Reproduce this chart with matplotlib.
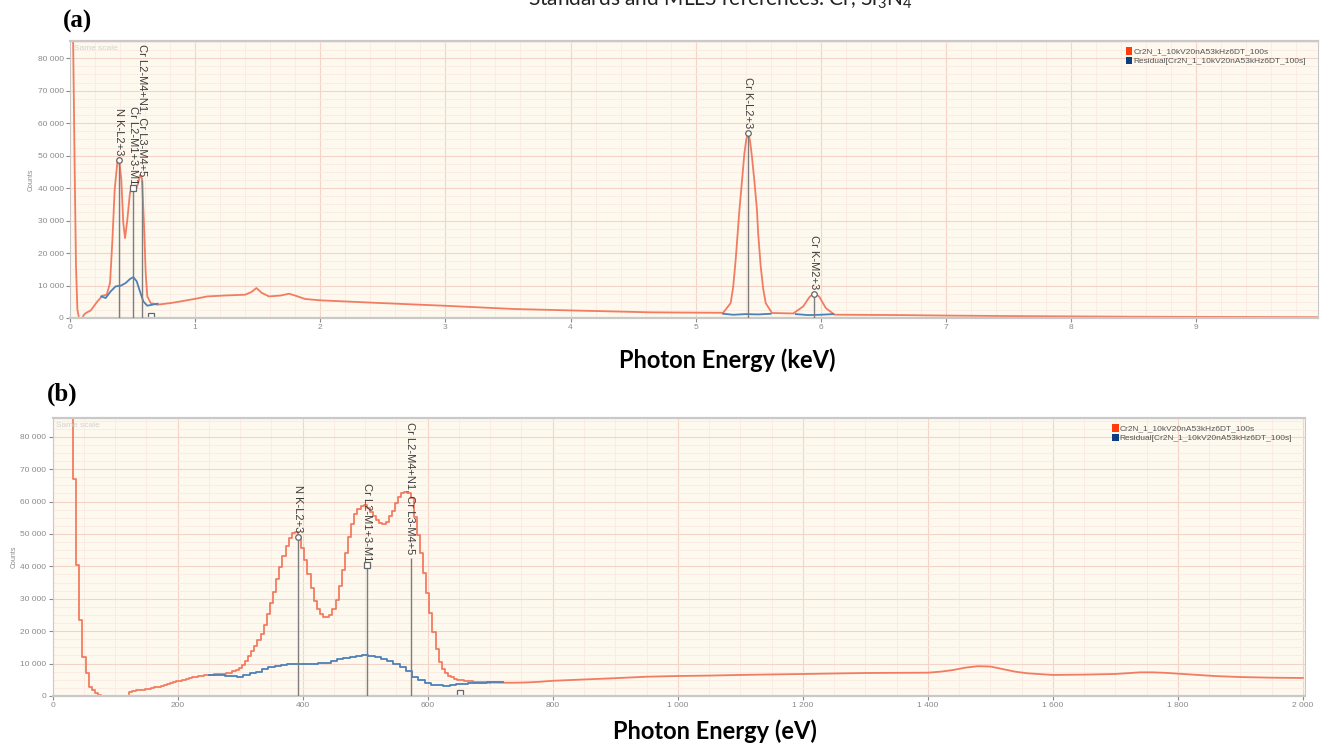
import matplotlib
matplotlib.use("Agg")
import numpy as np
import matplotlib.pyplot as plt
from matplotlib.patches import Patch
from matplotlib.ticker import MultipleLocator, FuncFormatter

# ---- panel (a): full spectrum, energy in keV ----
energy_kev = [0.018, 0.02, 0.03, 0.037, 0.048, 0.059, 0.072, 0.099, 0.11, 0.125,
              0.165, 0.219, 0.259, 0.293, 0.32, 0.339, 0.357, 0.379, 0.392, 0.41,
              0.426, 0.44, 0.458, 0.479, 0.498, 0.525, 0.545, 0.56, 0.575, 0.591,
              0.605, 0.618, 0.645, 0.698, 0.804, 0.884, 1.0, 1.097, 1.25, 1.40,
              1.45, 1.49, 1.53, 1.59, 1.68, 1.75, 1.80, 1.88, 2.0, 2.48,
              2.99, 3.55, 4.09, 4.65, 5.22, 5.28, 5.30, 5.32, 5.35, 5.37,
              5.39, 5.405, 5.42, 5.435, 5.45, 5.47, 5.49, 5.50, 5.52, 5.54,
              5.56, 5.61, 5.78, 5.86, 5.91, 5.95, 5.99, 6.04, 6.11, 6.63,
              7.0, 7.5, 8.0, 8.5, 9.0, 9.5, 9.97]
counts_kev = [120000, 100000, 70000, 46700, 15900, 2600, 0, 0, 900, 1500,
              2300, 5100, 6860, 7170, 10770, 24100, 39500, 48200, 49200, 42500,
              29200, 24600, 30200, 38500, 40500, 39500, 41500, 44000, 43000, 29200,
              13800, 6650, 4600, 4100, 4600, 5110, 5900, 6650, 6950, 7170,
              8000, 9230, 7800, 6650, 6900, 7480, 6900, 5850, 5440, 4610,
              3780, 2770, 2250, 1740, 1600, 4600, 9500, 17900, 33300, 42000,
              50800, 55000, 57100, 54500, 49700, 42000, 33300, 26000, 15900, 9000,
              4600, 1540, 1400, 3570, 6460, 7880, 6460, 3080, 1020, 900,
              750, 600, 500, 400, 350, 300, 250]

resid_energy_kev = [0.25, 0.285, 0.325, 0.365, 0.405, 0.445, 0.479, 0.506, 0.533, 0.559,
                    0.586, 0.618, 0.658, 0.70, np.nan, 5.22, 5.30, 5.40, 5.50, 5.60,
                    np.nan, 5.80, 5.90, 6.00, 6.10]
resid_counts_kev = [6650, 6150, 8200, 9740, 9940, 10770, 12000, 12600, 11300, 8200,
                    5100, 3780, 4100, 4400, np.nan, 1300, 1000, 1200, 1100, 1300,
                    np.nan, 1200, 900, 1000, 1200]

lines_kev = [0.391, 0.503, 0.578, 5.415, 5.95]
line_tops_kev = [48700, 40000, 42500, 57100, 7480]
line_names_kev = ["N K-L2+3", "Cr L2-M1+3-M1", "Cr L2-M4+N1, Cr L3-M4+5",
                  "Cr K-L2+3", "Cr K-M2+3"]
line_marks_kev = ["o", "s", None, "o", "o"]

# ---- panel (b): low-energy region, energy in eV ----
# 5 eV channels up to 700 eV (drawn as steps)
energy_ev = list(range(30, 705, 5))
counts_ev = [120000, 67000, 40400, 23400, 12100, 7000, 2900, 1800, 800, 300,
             0, 0, 0, 0, 0, 0, 0, 0, 0, 1300,
             1650, 1750, 1850, 2000, 2150, 2300, 2400, 2650, 2900, 3150,
             3450, 3700, 3950, 4250, 4500, 4750, 5000, 5250, 5500, 5750,
             6000, 6150, 6300, 6450, 6600, 6600, 6650, 6650, 6700, 6750,
             6950, 7200, 7600, 8100, 8700, 9600, 10700, 12200, 13800, 15500,
             17300, 19200, 22000, 25200, 28700, 32200, 36000, 39700, 43200, 46400,
             48800, 50400, 50600, 48800, 45600, 42000, 37600, 33200, 29200, 26800,
             25300, 24400, 24300, 25000, 26900, 29600, 34000, 38800, 44000, 49200,
             53200, 56200, 57700, 58600, 58900, 58000, 56800, 55400, 54200, 53400,
             53000, 53800, 55400, 57200, 59500, 61300, 62600, 63000, 62600, 61200,
             55300, 49800, 44200, 38000, 31700, 25500, 19600, 14600, 10600, 8400,
             7100, 6300, 5800, 5300, 4900, 4800, 4700, 4600, 4500, 4400,
             4350, 4300, 4250, 4200, 4150]
# slowly varying background above 700 eV
tail_energy_ev = [700, 720, 740, 760, 780, 800, 850, 900, 950, 1000,
                  1050, 1100, 1150, 1200, 1250, 1300, 1350, 1400, 1420, 1440,
                  1460, 1480, 1500, 1520, 1540, 1560, 1600, 1650, 1700, 1740,
                  1760, 1780, 1820, 1860, 1900, 1950, 2000]
tail_counts_ev = [4150, 4100, 4100, 4200, 4400, 4700, 5100, 5500, 5950, 6170,
                  6300, 6500, 6650, 6790, 6950, 7100, 7150, 7200, 7500, 8000,
                  8750, 9200, 9100, 8300, 7500, 7000, 6500, 6600, 6800, 7300,
                  7300, 7150, 6650, 6150, 5850, 5650, 5560]

resid_energy_ev = list(range(250, 730, 10))
resid_counts_ev = [6600, 6500, 6350, 6200, 6050, 6000, 6400, 7000, 7500, 8200,
                   8800, 9300, 9600, 9800, 9900, 9800, 9800, 9900, 10100, 10300,
                   10700, 11300, 11600, 11900, 12200, 12500, 12400, 12000, 11500, 10900,
                   10000, 8800, 7600, 6000, 4800, 4000, 3500, 3300, 3200, 3400,
                   3600, 3800, 3900, 4000, 4100, 4200, 4200, 4200]

lines_ev = [392, 503, 573]
line_tops_ev = [49100, 40400, 42500]
line_names_ev = ["N K-L2+3", "Cr L2-M1+3-M1", "Cr L2-M4+N1, Cr L3-M4+5"]
line_marks_ev = ["o", "s", None]

# unlabelled marker just above the baseline
extra_mark_kev = (0.645, 700)
extra_mark_ev = (651, 900)

legend_names = ["Cr2N_1_10kV20nA53kHz6DT_100s", "Residual[Cr2N_1_10kV20nA53kHz6DT_100s]"]

SPEC_COLOR = "#f27c62"
RESID_COLOR = "#4b80b8"
BG = "#fdf9ee"
TICK_GREY = "#8a8a8a"
LABEL_FONT = ["Liberation Sans", "DejaVu Sans"]

plt.rcParams["mathtext.fontset"] = "custom"
plt.rcParams["mathtext.rm"] = "Lato"


def thousands(v, pos):
    return f"{v:,.0f}".replace(",", " ")


def style_axes(ax, xmajor, xminor):
    ax.set_facecolor(BG)
    ax.xaxis.set_major_locator(MultipleLocator(xmajor))
    ax.xaxis.set_minor_locator(MultipleLocator(xminor))
    ax.yaxis.set_major_locator(MultipleLocator(10000))
    ax.yaxis.set_minor_locator(MultipleLocator(2500))
    ax.yaxis.set_major_formatter(FuncFormatter(thousands))
    ax.xaxis.set_major_formatter(FuncFormatter(thousands))
    ax.grid(which="major", color="#f4d3c8", lw=0.8)
    ax.grid(which="minor", color="#faeae2", lw=0.6)
    ax.set_axisbelow(True)
    ax.tick_params(which="major", length=3, width=0.8, color=TICK_GREY,
                   labelsize=6, labelcolor=TICK_GREY, pad=1.5)
    ax.tick_params(which="minor", length=0)
    for side, sp in ax.spines.items():
        sp.set_color("#c9c9c9")
        sp.set_linewidth(1.6 if side in ("top", "bottom") else 0.8)
    for lab in ax.get_xticklabels() + ax.get_yticklabels():
        lab.set_family(LABEL_FONT)
    ax.text(0.003, 0.985, "Same scale", transform=ax.transAxes, fontsize=6,
            color="#d2d2d2", va="top", family=LABEL_FONT)
    ax.set_ylabel("Counts", fontsize=5, color=TICK_GREY, labelpad=2, family=LABEL_FONT)
    ax.legend(handles=[Patch(facecolor="#ff3d0a", edgecolor="none", label=legend_names[0]),
                       Patch(facecolor="#0b3f80", edgecolor="none", label=legend_names[1])],
              loc="upper left", bbox_to_anchor=(0.846, 0.978), frameon=False,
              prop={"family": LABEL_FONT, "size": 6}, labelcolor="#555555",
              handlelength=0.8, handleheight=1.0, handletextpad=0.15,
              labelspacing=0.1, borderaxespad=0, borderpad=0)


def draw_lines(ax, pos, tops, names, marks):
    ax.vlines(pos, 0, tops, color="#7d7d7d", lw=1.0, zorder=3)
    for x, top, name, m in zip(pos, tops, names, marks):
        if m:
            ax.plot(x, top, marker=m, ms=4, mfc="white", mec="#666666", mew=0.9, zorder=4)
        ax.annotate(name, xy=(x, top), xytext=(0, 3), textcoords="offset points",
                    rotation=270, ha="center", va="bottom", fontsize=8,
                    color="#3c3c3c", family=LABEL_FONT, zorder=5)


fig = plt.figure(figsize=(13.22, 7.5), dpi=100)

# (a) 0-10 keV overview
ax_a = fig.add_axes([70 / 1322, 1 - 318 / 750, 1248 / 1322, 277 / 750])
ax_a.plot(energy_kev, counts_kev, color=SPEC_COLOR, lw=1.3, zorder=2)
ax_a.plot(resid_energy_kev, resid_counts_kev, color=RESID_COLOR, lw=1.3, zorder=2)
draw_lines(ax_a, lines_kev, line_tops_kev, line_names_kev, line_marks_kev)
ax_a.plot(*extra_mark_kev, marker="s", ms=4, mfc="white", mec="#666666", mew=0.9)
ax_a.set_xlim(0, 9.974)
ax_a.set_ylim(0, 85300)
style_axes(ax_a, 1, 0.2)

# (b) 0-2000 eV detail
ax_b = fig.add_axes([52.7 / 1322, 1 - 696 / 750, 1252 / 1322, 278 / 750])
ax_b.plot(energy_ev, counts_ev, color=SPEC_COLOR, lw=1.3, drawstyle="steps-mid", zorder=2)
ax_b.plot(tail_energy_ev, tail_counts_ev, color=SPEC_COLOR, lw=1.3, zorder=2)
ax_b.plot(resid_energy_ev, resid_counts_ev, color=RESID_COLOR, lw=1.3,
          drawstyle="steps-mid", zorder=2)
draw_lines(ax_b, lines_ev, line_tops_ev, line_names_ev, line_marks_ev)
ax_b.plot(*extra_mark_ev, marker="s", ms=4, mfc="white", mec="#666666", mew=0.9)
ax_b.set_xlim(0, 2003)
ax_b.set_ylim(0, 85800)
style_axes(ax_b, 200, 50)

# captions
fig.text(720 / 1322, 1 - 5 / 750, r"Standards and MLLS references: Cr, Si$_3$N$_4$",
         ha="center", va="baseline", fontsize=15, family="Lato", color="#222222")
fig.text(63 / 1322, 1 - 21 / 750, "(a)", fontsize=18, weight="bold",
         family="Liberation Serif", va="center")
fig.text(47 / 1322, 1 - 394 / 750, "(b)", fontsize=18, weight="bold",
         family="Liberation Serif", va="center")
fig.text(727 / 1322, 1 - 360 / 750, "Photon Energy (keV)", ha="center", va="center",
         fontsize=17, weight="bold", family="Lato")
fig.text(715 / 1322, 1 - 731 / 750, "Photon Energy (eV)", ha="center", va="center",
         fontsize=17, weight="bold", family="Lato")

fig.savefig("out.png", dpi=100)
